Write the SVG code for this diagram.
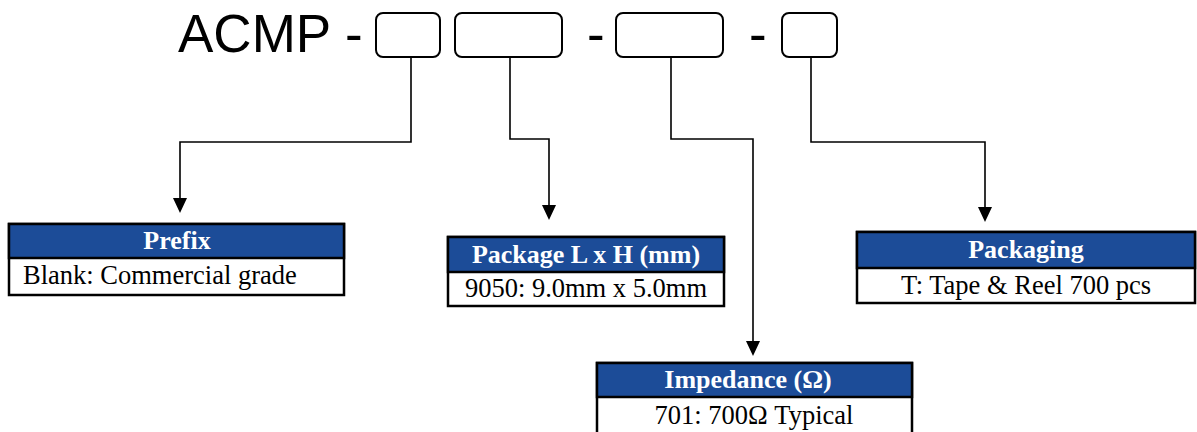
<svg xmlns="http://www.w3.org/2000/svg" width="1197" height="432" viewBox="0 0 1197 432">
<defs>
<style>
.title{font-family:"Liberation Sans",Arial,sans-serif;font-size:53px;fill:#000}
.slot{fill:#fff;stroke:#000;stroke-width:2}
.frame{fill:#fff;stroke:#000;stroke-width:2.5}
.head{fill:#1c4c98;stroke:#000;stroke-width:2.5}
.ht{font-family:"Liberation Serif","Times New Roman",serif;font-size:26px;font-weight:bold;fill:#fff;text-anchor:middle}
.bt{font-family:"Liberation Serif","Times New Roman",serif;font-size:26.5px;fill:#000;text-anchor:middle}
.line{fill:none;stroke:#000;stroke-width:1.6}
.tip{fill:#000}
</style>
</defs>
<g id="title">
<text class="title" x="178" y="52">ACMP -</text>
<text class="title" x="587" y="52">-</text>
<text class="title" x="749" y="52">-</text>
<rect class="slot" x="376" y="13" width="64" height="44" rx="7"/>
<rect class="slot" x="455" y="13" width="107" height="44" rx="7"/>
<rect class="slot" x="616" y="13" width="107" height="44" rx="7"/>
<rect class="slot" x="782" y="13" width="55" height="44" rx="7"/>
</g>
<g id="connectors">
<path class="line" d="M411,57 V142 H180 V198"/>
<polygon class="tip" points="173,198 187,198 180,213"/>
<path class="line" d="M510,57 V139 H549 V205"/>
<polygon class="tip" points="542,205 556,205 549,220"/>
<path class="line" d="M671,57 V139 H753 V341"/>
<polygon class="tip" points="746,341 760,341 753,356"/>
<path class="line" d="M811,57 V142 H985 V207"/>
<polygon class="tip" points="978,207 992,207 985,222"/>
</g>
<g id="prefix">
<rect class="frame" x="9" y="224" width="335" height="71"/>
<rect class="head" x="9" y="224" width="335" height="34"/>
<text class="ht" x="177" y="249">Prefix</text>
<text class="bt" x="23" y="284" style="text-anchor:start">Blank: Commercial grade</text>
</g>
<g id="package">
<rect class="frame" x="448" y="237" width="276" height="69"/>
<rect class="head" x="448" y="237" width="276" height="35"/>
<text class="ht" x="586" y="263">Package L x H (mm)</text>
<text class="bt" x="586" y="297">9050: 9.0mm x 5.0mm</text>
</g>
<g id="impedance">
<rect class="frame" x="597" y="363" width="315" height="80"/>
<rect class="head" x="597" y="363" width="315" height="34"/>
<text class="ht" x="748" y="388">Impedance (Ω)</text>
<text class="bt" x="754" y="424">701: 700Ω Typical</text>
</g>
<g id="packaging">
<rect class="frame" x="857" y="232" width="338" height="71"/>
<rect class="head" x="857" y="232" width="338" height="36"/>
<text class="ht" x="1026" y="258">Packaging</text>
<text class="bt" x="1026" y="294">T: Tape &amp; Reel 700 pcs</text>
</g>
</svg>
